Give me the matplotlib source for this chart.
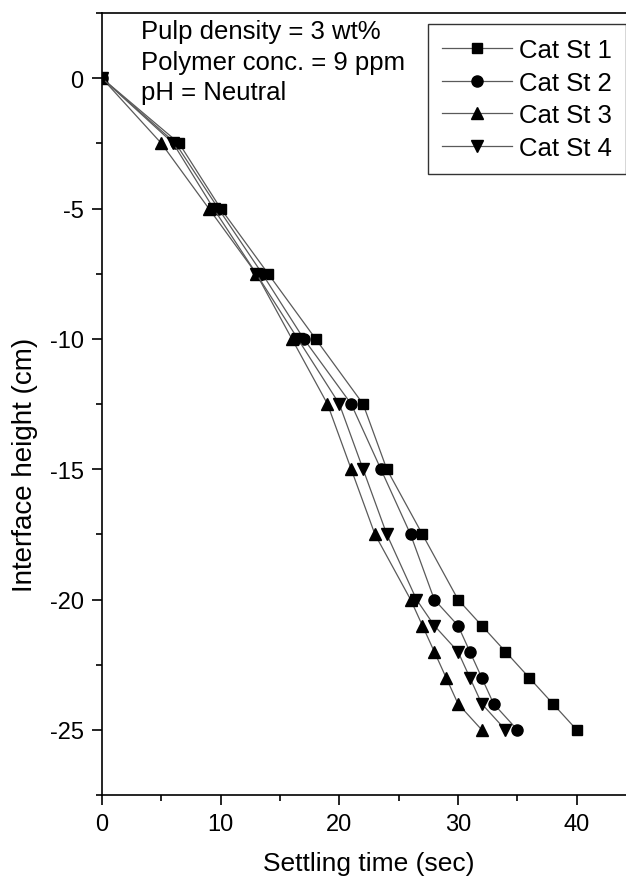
import matplotlib
matplotlib.use("Agg")
import matplotlib.pyplot as plt
from matplotlib.ticker import MultipleLocator, FuncFormatter

plt.rcParams['font.family'] = ['Liberation Sans', 'DejaVu Sans']

# Data
heights = [0, -2.5, -5, -7.5, -10, -12.5, -15, -17.5, -20, -21, -22, -23, -24, -25]
cat_st_1 = [0, 6.5, 10, 14, 18, 22, 24, 27, 30, 32, 34, 36, 38, 40]
cat_st_2 = [0, 6.2, 9.8, 13.5, 17, 21, 23.5, 26, 28, 30, 31, 32, 33, 35]
cat_st_3 = [0, 5, 9, 13, 16, 19, 21, 23, 26, 27, 28, 29, 30, 32]
cat_st_4 = [0, 6, 9.4, 13, 16.5, 20, 22, 24, 26.5, 28, 30, 31, 32, 34]
series_labels = ["Cat St 1", "Cat St 2", "Cat St 3", "Cat St 4"]
annotation_lines = ["Pulp density = 3 wt%", "Polymer conc. = 9 ppm", "pH = Neutral"]

W, H = 626, 878
fig = plt.figure(figsize=(W / 100, H / 100), dpi=100)
ax_left, ax_right, ax_top, ax_bottom = 102, 636, 14, 796
ax = fig.add_axes([ax_left / W, 1 - ax_bottom / H, (ax_right - ax_left) / W, (ax_bottom - ax_top) / H])

markers = ['s', 'o', '^', 'v']
for xs, m, lab in zip([cat_st_1, cat_st_2, cat_st_3, cat_st_4], markers, series_labels):
    ax.plot(xs, heights, color='#5a5a5a', lw=0.9, marker=m, markersize=8 if m != 's' else 7.5,
            markerfacecolor='black', markeredgecolor='black', label=lab)

ax.set_xlim(0, 45)
ax.set_ylim(-27.5, 2.5)
ax.xaxis.set_major_locator(MultipleLocator(10))
ax.xaxis.set_minor_locator(MultipleLocator(5))
ax.yaxis.set_major_locator(MultipleLocator(5))
ax.yaxis.set_minor_locator(MultipleLocator(2.5))
ax.tick_params(which='major', direction='out', length=7.2, width=1.2, labelsize=17, pad=6,
               top=False, right=False)
ax.tick_params(which='minor', direction='out', length=4.5, width=1.2, top=False, right=False)
for s in ax.spines.values():
    s.set_linewidth(1.2)
ax.yaxis.set_major_formatter(FuncFormatter(lambda v, p: f"{v:g}"))

ax.set_xlabel("Settling time (sec)", fontsize=19)
ax.set_ylabel("Interface height (cm)", fontsize=20)
ax.yaxis.set_label_coords(-0.12, 0.423)
ax.xaxis.set_label_coords(0.5, -0.072)

# annotation text
ys_px = [32, 63, 93]
for t, ypx in zip(annotation_lines, ys_px):
    fig.text(141 / W, 1 - ypx / H, t, fontsize=18.5, ha='left', va='center')

leg = ax.legend(loc='upper left',
                bbox_to_anchor=((428 - ax_left) / (ax_right - ax_left), (ax_bottom - 25) / (ax_bottom - ax_top)),
                borderaxespad=0, frameon=True, fancybox=False, fontsize=18.5,
                handlelength=2.7, handletextpad=0.3, labelspacing=0.33, borderpad=0.55)
leg.get_frame().set_edgecolor('black')
leg.get_frame().set_linewidth(1.0)

fig.savefig("out.png", dpi=100)
